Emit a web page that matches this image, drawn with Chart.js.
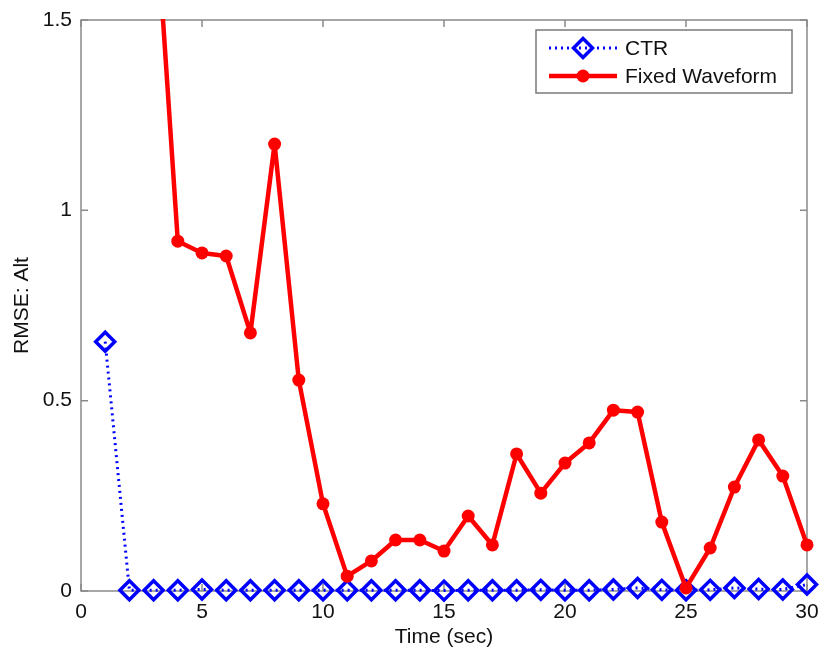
<!DOCTYPE html>
<html>
<head>
<meta charset="utf-8">
<script src="https://cdn.jsdelivr.net/npm/chart.js@4/dist/chart.umd.min.js"></script>
<style>
  html, body { margin: 0; padding: 0; background: #ffffff; }
  #wrap { width: 820px; height: 650px; }
</style>
</head>
<body>
<div id="wrap"><canvas id="c" width="820" height="650"></canvas></div>
<script>
// ---- data ----
const timeSec = [1,2,3,4,5,6,7,8,9,10,11,12,13,14,15,16,17,18,19,20,21,22,23,24,25,26,27,28,29,30];
const ctrRmse = [0.655,0.002,0.002,0.002,0.004,0.002,0.002,0.002,0.002,0.002,0.002,0.002,0.002,0.002,0.001,0.002,0.002,0.002,0.003,0.002,0.002,0.004,0.008,0.003,0.002,0.003,0.008,0.005,0.004,0.017];
const fixedRmse = [null,null,1.87,0.919,0.888,0.880,0.678,1.174,0.554,0.229,0.039,0.079,0.134,0.134,0.105,0.197,0.121,0.360,0.257,0.336,0.389,0.475,0.470,0.181,0.008,0.113,0.273,0.397,0.302,0.121];
const xTicks = [0,5,10,15,20,25,30];
const yTicks = [0,0.5,1,1.5];
const seriesNames = ['CTR','Fixed Waveform'];

const FONT = "'Liberation Sans', Arial, sans-serif";
const AXIS_COLOR = '#8a8a8a';

const toPts = (ys) => timeSec.map((t, i) => ({ x: t, y: ys[i] }));

const framePlugin = {
  id: 'matlabFrame',
  beforeDatasetsDraw(chart) {
    const { ctx, chartArea: a, scales } = chart;
    ctx.save();
    ctx.strokeStyle = AXIS_COLOR;
    ctx.lineWidth = 1.5;
    ctx.strokeRect(a.left, a.top, a.right - a.left, a.bottom - a.top);
    const L = 7;
    ctx.beginPath();
    xTicks.forEach(v => {
      const px = scales.x.getPixelForValue(v);
      ctx.moveTo(px, a.bottom); ctx.lineTo(px, a.bottom - L);
      ctx.moveTo(px, a.top); ctx.lineTo(px, a.top + L);
    });
    yTicks.forEach(v => {
      const py = scales.y.getPixelForValue(v);
      ctx.moveTo(a.left, py); ctx.lineTo(a.left + L, py);
      ctx.moveTo(a.right, py); ctx.lineTo(a.right - L, py);
    });
    ctx.stroke();
    ctx.restore();
  }
};

const legendPlugin = {
  id: 'matlabLegend',
  afterDraw(chart) {
    const { ctx } = chart;
    const ds = chart.data.datasets;
    const bx = 536, by = 30, bw = 256, bh = 63;
    ctx.save();
    ctx.fillStyle = '#ffffff';
    ctx.fillRect(bx, by, bw, bh);
    ctx.strokeStyle = '#7a7a7a';
    ctx.lineWidth = 1.5;
    ctx.strokeRect(bx, by, bw, bh);
    const rows = [48, 76];
    ds.forEach((d, i) => {
      const y = rows[i];
      ctx.save();
      ctx.strokeStyle = d.borderColor;
      ctx.lineWidth = d.borderWidth;
      ctx.setLineDash(d.borderDash || []);
      ctx.beginPath(); ctx.moveTo(549, y); ctx.lineTo(617, y); ctx.stroke();
      ctx.restore();
      ctx.save();
      ctx.fillStyle = d.pointBackgroundColor;
      ctx.strokeStyle = d.pointBorderColor;
      ctx.lineWidth = d.pointBorderWidth;
      ctx.beginPath();
      if (d.pointStyle === 'rectRot') {
        const r = d.pointRadius;
        ctx.moveTo(583 - r, y); ctx.lineTo(583, y - r); ctx.lineTo(583 + r, y); ctx.lineTo(583, y + r); ctx.closePath();
      } else {
        ctx.arc(583, y, d.pointRadius, 0, Math.PI * 2);
      }
      ctx.fill(); if (d.pointBorderWidth > 0) ctx.stroke();
      ctx.restore();
      ctx.fillStyle = '#111';
      ctx.font = '21px ' + FONT;
      ctx.textBaseline = 'middle';
      ctx.textAlign = 'left';
      ctx.fillText(d.label, 625, y + 1);
    });
    ctx.restore();
  }
};

new Chart(document.getElementById('c'), {
  type: 'line',
  data: {
    datasets: [
      {
        label: seriesNames[0],
        data: toPts(ctrRmse),
        order: 1,
        borderColor: '#0000ff',
        borderWidth: 3,
        borderDash: [2, 4],
        pointStyle: 'rectRot',
        pointRadius: 9.5,
        pointBorderWidth: 3.5,
        pointBorderColor: '#0000ff',
        pointBackgroundColor: 'rgba(0,0,0,0)',
        tension: 0,
        clip: false
      },
      {
        label: seriesNames[1],
        data: toPts(fixedRmse),
        order: 0,
        borderColor: '#ff0000',
        borderWidth: 4.5,
        borderJoinStyle: 'round',
        borderCapStyle: 'round',
        pointStyle: 'circle',
        pointRadius: 6.5,
        pointBorderWidth: 0,
        pointBorderColor: '#ff0000',
        pointBackgroundColor: '#ff0000',
        tension: 0,
        spanGaps: false,
        clip: { top: 1, left: false, right: false, bottom: false }
      }
    ]
  },
  options: {
    responsive: false,
    animation: false,
    devicePixelRatio: 1,
    layout: { padding: { top: 20, right: 13, left: 0, bottom: 0 } },
    plugins: { legend: { display: false }, tooltip: { enabled: false } },
    scales: {
      x: {
        type: 'linear', min: 0, max: 30,
        afterBuildTicks(s) { s.ticks = xTicks.map(v => ({ value: v })); },
        afterFit(s) { s.height = 59; s.paddingLeft = 0; s.paddingRight = 0; },
        grid: { display: true, drawOnChartArea: false, drawTicks: false },
        border: { display: false },
        ticks: { font: { size: 21, family: FONT }, color: '#111', padding: 9, maxRotation: 0, callback: v => String(v) },
        title: { display: true, text: 'Time (sec)', font: { size: 21, family: FONT }, color: '#111', padding: { top: 0, bottom: 0 } }
      },
      y: {
        type: 'linear', min: 0, max: 1.5,
        afterBuildTicks(s) { s.ticks = yTicks.map(v => ({ value: v })); },
        afterFit(s) { s.width = 81; s.paddingTop = 0; s.paddingBottom = 0; },
        grid: { display: true, drawOnChartArea: false, drawTicks: false },
        border: { display: false },
        ticks: { font: { size: 21, family: FONT }, color: '#111', padding: 9, callback: v => String(v) },
        title: { display: true, text: 'RMSE: Alt', font: { size: 21, family: FONT }, color: '#111', padding: { top: 10, bottom: 0 } }
      }
    }
  },
  plugins: [framePlugin, legendPlugin]
});
</script>
</body>
</html>
